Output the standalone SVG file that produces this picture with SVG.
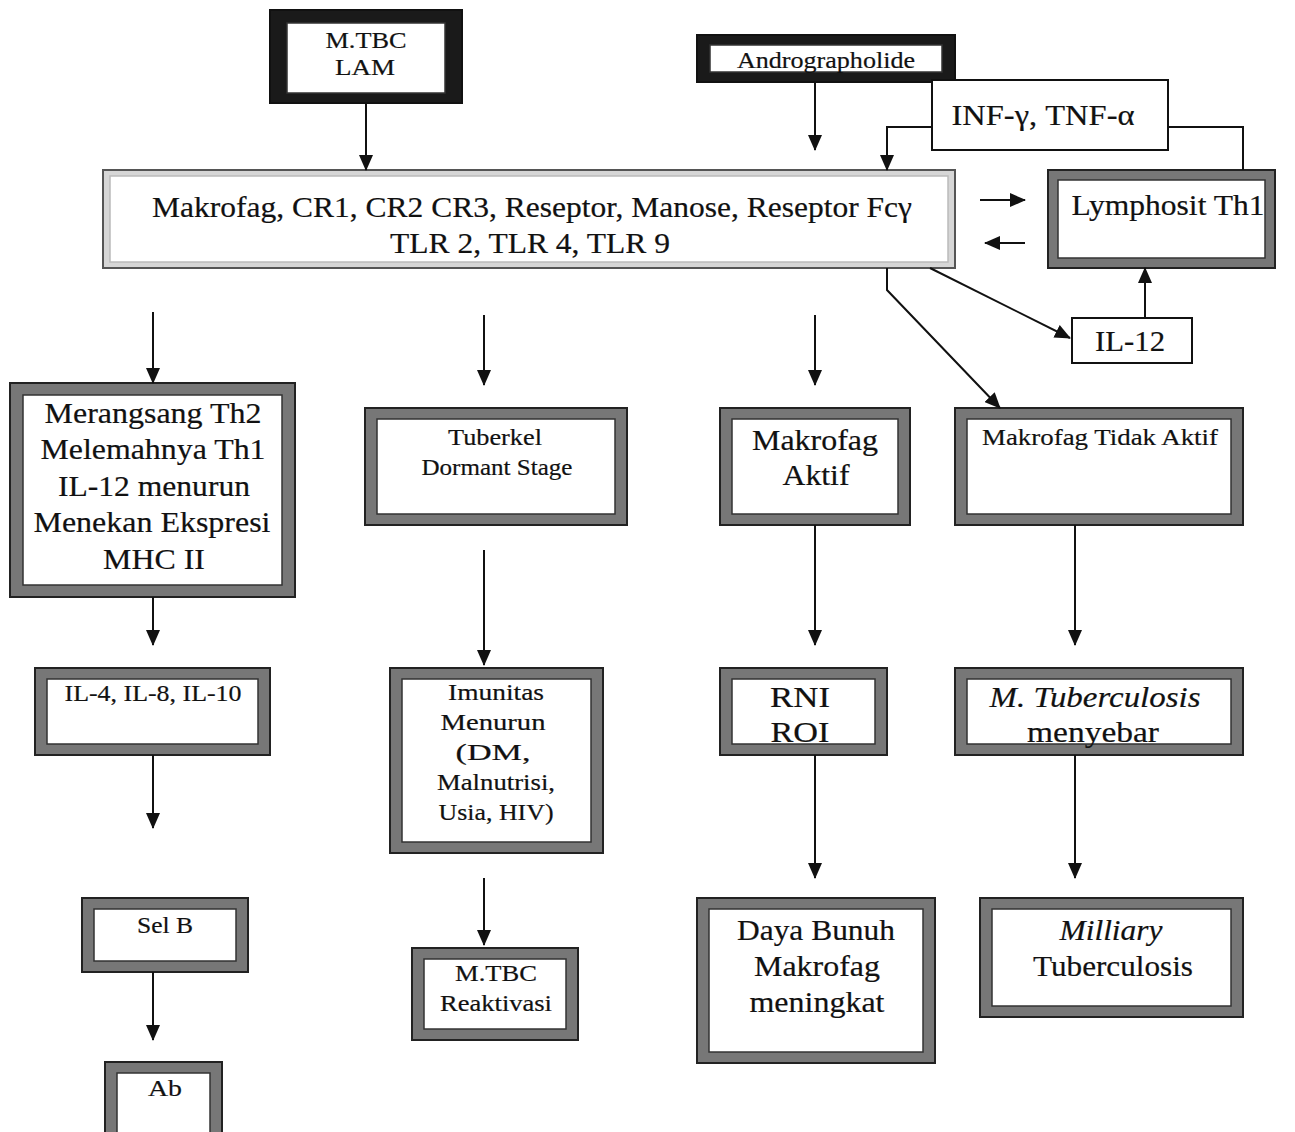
<svg xmlns="http://www.w3.org/2000/svg" width="1295" height="1132" viewBox="0 0 1295 1132">
<defs>
<marker id="ah" markerUnits="userSpaceOnUse" markerWidth="16" markerHeight="14" refX="15" refY="7" orient="auto">
<path d="M0,0 L16,7 L0,14 z" fill="#111"/>
</marker>
<style>
.fr{fill:#777;stroke:#222;stroke-width:2}
.dk{fill:#1a1a1a;stroke:#111;stroke-width:2}
.lt{fill:#d6d6d6;stroke:#555;stroke-width:2}
.in{fill:#fff;stroke:#333;stroke-width:1.5}
.pl{fill:#fff;stroke:#111;stroke-width:2}
text{font-family:"Liberation Serif","Times New Roman",serif;fill:#111;stroke:#111;stroke-width:0.2;text-anchor:middle}
.b{font-size:29px}
.s{font-size:24px}
.c path{fill:none;stroke:#111;stroke-width:2;marker-end:url(#ah)}
.c path.n{marker-end:none}
</style>
</defs>
<rect width="1295" height="1132" fill="#fff"/>

<g id="mtbc-lam">
<rect class="dk" x="270" y="10" width="192" height="93"/>
<rect class="in" x="287" y="23" width="158" height="70"/>
<text class="s" x="366" y="48" textLength="81" lengthAdjust="spacingAndGlyphs">M.TBC</text>
<text class="s" x="365" y="75" textLength="60" lengthAdjust="spacingAndGlyphs">LAM</text>
</g>

<g id="andrographolide">
<rect class="dk" x="697" y="35" width="258" height="47"/>
<rect class="in" x="710" y="45" width="232" height="27"/>
<text class="s" x="826" y="68" textLength="178" lengthAdjust="spacingAndGlyphs">Andrographolide</text>
</g>

<g id="inf-tnf">
<rect class="pl" x="932" y="80" width="236" height="70"/>
<text class="b" x="1043" y="125" textLength="183" lengthAdjust="spacingAndGlyphs">INF-γ, TNF-α</text>
</g>

<g id="makrofag">
<rect class="lt" x="103" y="170" width="852" height="98"/>
<rect class="in" x="110" y="176" width="838" height="86" style="stroke:#bbb"/>
<text class="b" x="532" y="217" textLength="760" lengthAdjust="spacingAndGlyphs">Makrofag, CR1, CR2 CR3, Reseptor, Manose, Reseptor Fcγ</text>
<text class="b" x="530" y="253" textLength="280" lengthAdjust="spacingAndGlyphs">TLR 2, TLR 4, TLR 9</text>
</g>

<g id="lymphosit">
<rect class="fr" x="1048" y="170" width="227" height="98"/>
<rect class="in" x="1058" y="180" width="207" height="78"/>
<text class="b" x="1168" y="215" textLength="193" lengthAdjust="spacingAndGlyphs">Lymphosit  Th1</text>
</g>

<g id="il12">
<rect class="pl" x="1072" y="318" width="120" height="45"/>
<text class="b" x="1130" y="351" textLength="70" lengthAdjust="spacingAndGlyphs">IL-12</text>
</g>

<g id="merangsang">
<rect class="fr" x="10" y="383" width="285" height="214"/>
<rect class="in" x="23" y="395" width="259" height="190"/>
<text class="b" x="153" y="423" textLength="217" lengthAdjust="spacingAndGlyphs">Merangsang Th2</text>
<text class="b" x="153" y="459" textLength="225" lengthAdjust="spacingAndGlyphs">Melemahnya Th1</text>
<text class="b" x="154" y="496" textLength="192" lengthAdjust="spacingAndGlyphs">IL-12 menurun</text>
<text class="b" x="152" y="532" textLength="237" lengthAdjust="spacingAndGlyphs">Menekan Ekspresi</text>
<text class="b" x="154" y="569" textLength="102" lengthAdjust="spacingAndGlyphs">MHC II</text>
</g>

<g id="tuberkel">
<rect class="fr" x="365" y="408" width="262" height="117"/>
<rect class="in" x="377" y="419" width="238" height="95"/>
<text class="s" x="495" y="445" textLength="94" lengthAdjust="spacingAndGlyphs">Tuberkel</text>
<text class="s" x="497" y="475" textLength="151" lengthAdjust="spacingAndGlyphs">Dormant Stage</text>
</g>

<g id="makrofag-aktif">
<rect class="fr" x="720" y="408" width="190" height="117"/>
<rect class="in" x="732" y="419" width="166" height="95"/>
<text class="b" x="815" y="450" textLength="126" lengthAdjust="spacingAndGlyphs">Makrofag</text>
<text class="b" x="816" y="485" textLength="67" lengthAdjust="spacingAndGlyphs">Aktif</text>
</g>

<g id="makrofag-tidak-aktif">
<rect class="fr" x="955" y="408" width="288" height="117"/>
<rect class="in" x="967" y="419" width="264" height="95"/>
<text class="s" x="1100" y="445" textLength="236" lengthAdjust="spacingAndGlyphs">Makrofag Tidak Aktif</text>
</g>

<g id="il-4-8-10">
<rect class="fr" x="35" y="668" width="235" height="87"/>
<rect class="in" x="47" y="679" width="211" height="65"/>
<text class="s" x="153" y="701" textLength="177" lengthAdjust="spacingAndGlyphs">IL-4, IL-8, IL-10</text>
</g>

<g id="imunitas">
<rect class="fr" x="390" y="668" width="213" height="185"/>
<rect class="in" x="402" y="679" width="189" height="163"/>
<text class="s" x="496" y="700" textLength="96" lengthAdjust="spacingAndGlyphs">Imunitas</text>
<text class="s" x="493" y="730" textLength="105" lengthAdjust="spacingAndGlyphs">Menurun</text>
<text class="s" x="493" y="760" textLength="75" lengthAdjust="spacingAndGlyphs">(DM,</text>
<text class="s" x="496" y="790" textLength="118" lengthAdjust="spacingAndGlyphs">Malnutrisi,</text>
<text class="s" x="496" y="820" textLength="115" lengthAdjust="spacingAndGlyphs">Usia, HIV)</text>
</g>

<g id="rni-roi">
<rect class="fr" x="720" y="668" width="167" height="87"/>
<rect class="in" x="732" y="679" width="143" height="65"/>
<text class="b" x="800" y="707" textLength="60" lengthAdjust="spacingAndGlyphs">RNI</text>
<text class="b" x="800" y="742" textLength="59" lengthAdjust="spacingAndGlyphs">ROI</text>
</g>

<g id="tb-menyebar">
<rect class="fr" x="955" y="668" width="288" height="87"/>
<rect class="in" x="967" y="679" width="264" height="65"/>
<text class="b" x="1095" y="707" font-style="italic" textLength="211" lengthAdjust="spacingAndGlyphs">M. Tuberculosis</text>
<text class="b" x="1093" y="742" textLength="132" lengthAdjust="spacingAndGlyphs">menyebar</text>
</g>

<g id="sel-b">
<rect class="fr" x="82" y="898" width="166" height="74"/>
<rect class="in" x="94" y="909" width="142" height="52"/>
<text class="s" x="165" y="933" textLength="56" lengthAdjust="spacingAndGlyphs">Sel B</text>
</g>

<g id="mtbc-reaktivasi">
<rect class="fr" x="412" y="948" width="166" height="92"/>
<rect class="in" x="424" y="959" width="142" height="70"/>
<text class="s" x="496" y="981" textLength="82" lengthAdjust="spacingAndGlyphs">M.TBC</text>
<text class="s" x="496" y="1011" textLength="112" lengthAdjust="spacingAndGlyphs">Reaktivasi</text>
</g>

<g id="daya-bunuh">
<rect class="fr" x="697" y="898" width="238" height="165"/>
<rect class="in" x="709" y="909" width="214" height="143"/>
<text class="b" x="816" y="940" textLength="158" lengthAdjust="spacingAndGlyphs">Daya Bunuh</text>
<text class="b" x="817" y="976" textLength="126" lengthAdjust="spacingAndGlyphs">Makrofag</text>
<text class="b" x="817" y="1012" textLength="135" lengthAdjust="spacingAndGlyphs">meningkat</text>
</g>

<g id="milliary">
<rect class="fr" x="980" y="898" width="263" height="119"/>
<rect class="in" x="992" y="909" width="239" height="97"/>
<text class="b" x="1111" y="940" font-style="italic" textLength="103" lengthAdjust="spacingAndGlyphs">Milliary</text>
<text class="b" x="1113" y="976" textLength="160" lengthAdjust="spacingAndGlyphs">Tuberculosis</text>
</g>

<g id="ab">
<rect class="fr" x="105" y="1062" width="117" height="80"/>
<rect class="in" x="117" y="1073" width="93" height="60"/>
<text class="s" x="165" y="1096" textLength="34" lengthAdjust="spacingAndGlyphs">Ab</text>
</g>

<g id="connectors" class="c">
<path d="M366,103 V170"/>
<path d="M815,82 V150"/>
<path d="M932,127 H887 V170"/>
<path class="n" d="M1168,127 H1243 V170"/>
<path d="M980,200 H1025"/>
<path d="M1025,243 H985"/>
<path d="M1145,318 V268"/>
<path d="M887,268 V290 L1000,408"/>
<path d="M930,268 L1070,338"/>
<path d="M153,312 V383"/>
<path d="M484,315 V385"/>
<path d="M815,315 V385"/>
<path d="M153,597 V645"/>
<path d="M484,550 V665"/>
<path d="M815,525 V645"/>
<path d="M1075,525 V645"/>
<path d="M153,755 V828"/>
<path d="M484,878 V945"/>
<path d="M815,755 V878"/>
<path d="M1075,755 V878"/>
<path d="M153,972 V1040"/>
</g>
</svg>
